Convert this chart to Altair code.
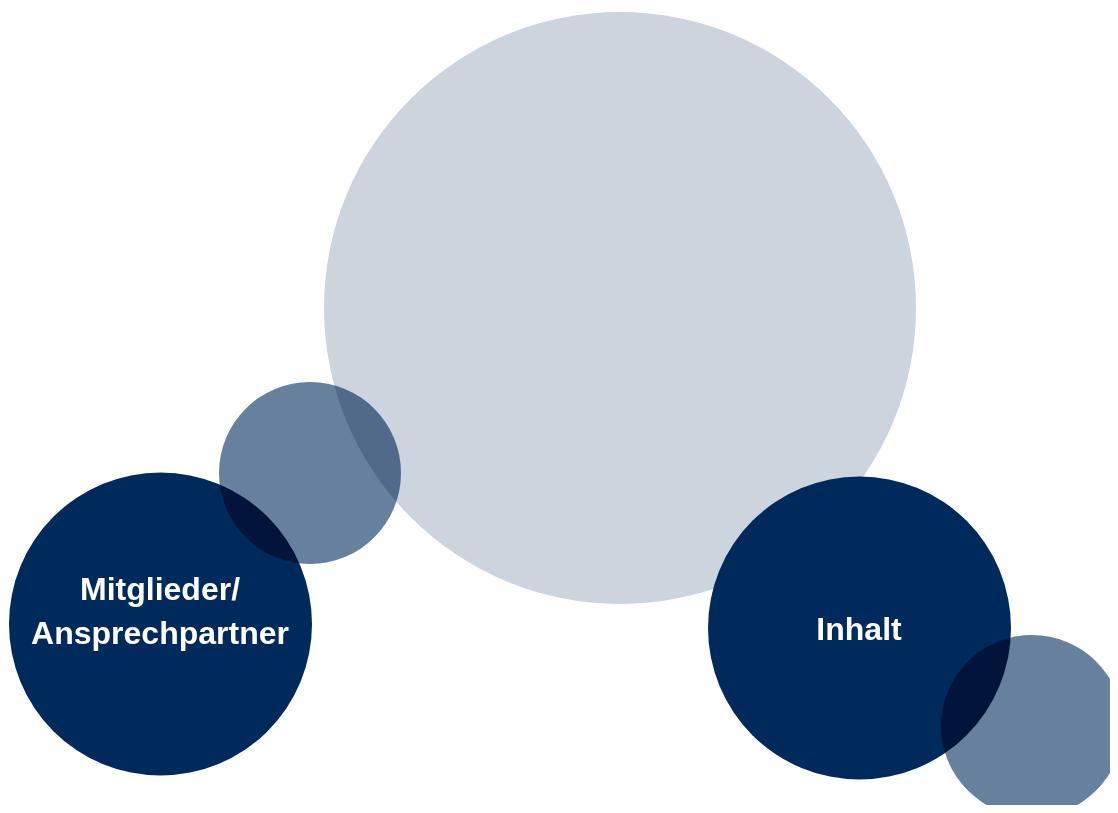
import altair as alt
import pandas as pd

# Circles of the diagram (screen-space centre, radius, fill opacity)
circle_name = ["Hintergrund", "Klein links", "Mitglieder/Ansprechpartner", "Inhalt", "Klein rechts"]
circle_x = [620, 310, 160.5, 859.5, 1032]
circle_y = [308, 473, 624, 628, 726]
circle_r = [296, 91, 151.5, 151.5, 91]
circle_opacity = [0.2, 0.6, 1.0, 1.0, 0.6]
circle_group = ["base", "overlay", "base", "base", "overlay"]

# Labels (one row per text line)
label_text = ["Mitglieder/", "Ansprechpartner", "Inhalt"]
label_x = [160, 160, 859]
label_y = [600, 644, 640]

NAVY = "#002a5c"

circles = pd.DataFrame({
    "name": circle_name,
    "cx": circle_x,
    "cy": circle_y,
    "r": circle_r,
    "op": circle_opacity,
    "group": circle_group,
})
labels = pd.DataFrame({"text": label_text, "lx": label_x, "ly": label_y})

W, H = 1102, 797
xs = alt.Scale(domain=[8, 8 + W], zero=False, nice=False)
ys = alt.Scale(domain=[8, 8 + H], zero=False, nice=False, reverse=True)


def circle_layer(group, blend=None):
    kw = {"color": NAVY, "strokeWidth": 0}
    if blend:
        kw["blend"] = blend
    return (
        alt.Chart(circles)
        .transform_filter(alt.datum.group == group)
        # Vega circle symbol: radius = sqrt(size) / 2
        .transform_calculate(area="4 * datum.r * datum.r")
        .mark_circle(**kw)
        .encode(
            x=alt.X("cx:Q", scale=xs, axis=None),
            y=alt.Y("cy:Q", scale=ys, axis=None),
            size=alt.Size("area:Q", scale=None, legend=None),
            opacity=alt.Opacity("op:Q", scale=None, legend=None),
            order=alt.Order("r:Q", sort="descending"),
        )
    )


base = circle_layer("base")
overlay = circle_layer("overlay", blend="multiply")

text = (
    alt.Chart(labels)
    .mark_text(
        font="Liberation Sans",
        fontWeight="bold",
        fontSize=32,
        color="white",
        align="center",
        baseline="alphabetic",
    )
    .encode(
        x=alt.X("lx:Q", scale=xs, axis=None),
        y=alt.Y("ly:Q", scale=ys, axis=None),
        text="text:N",
    )
)

chart = (
    alt.layer(base, overlay, text)
    .properties(width=W, height=H, padding=0, autosize="none", background="white")
    .configure_view(stroke=None)
)

chart.save("out.html", embed_options={"renderer": "svg", "actions": False})
